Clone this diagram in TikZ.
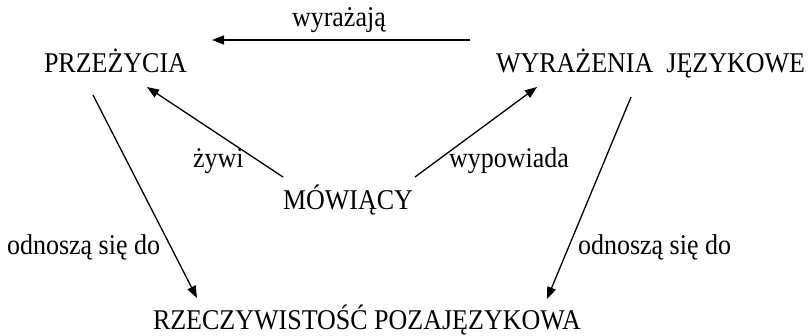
\documentclass[tikz,border=0pt]{standalone}
\usepackage{fontspec}
\usepackage{graphicx}
\setmainfont{Liberation Serif}
\usetikzlibrary{arrows.meta}
\newcommand{\tall}[1]{\scalebox{1}[1.1]{#1}}
\begin{document}
\begin{tikzpicture}[x=1pt,y=-1pt,
  lbl/.style={inner sep=0pt,outer sep=0pt,anchor=base west,font=\fontsize{26}{30}\selectfont},
  arr/.style={line width=1.3pt,-{Triangle[length=12pt,width=9pt]}}]
\useasboundingbox (0,0) rectangle (810,336);
\node[lbl] (wyrazaja) at (292,27) {\tall{wyrażają}};
\node[lbl] (prz) at (44,73) {\tall{PRZEŻYCIA}};
\node[lbl] (wyr) at (496,73) {\tall{WYRAŻENIA\ \ JĘZYKOWE}};
\node[lbl] (zywi) at (193,168) {\tall{żywi}};
\node[lbl] (wypow) at (449,168) {\tall{wypowiada}};
\node[lbl] (mow) at (283,210) {\tall{MÓWIĄCY}};
\node[lbl] (odnL) at (7,255) {\tall{odnoszą się do}};
\node[lbl] (odnR) at (578,255) {\tall{odnoszą się do}};
\node[lbl] (rze) at (153,329) {\tall{RZECZYWISTOŚĆ POZAJĘZYKOWA}};
\draw[arr] ([shift={(-26,-33)}]wyr.base west) -- ([shift={(168,-33)}]prz.base west);
\draw[arr] ([shift={(0,-33)}]mow.base west) -- ([shift={(103,14)}]prz.base west);
\draw[arr] ([shift={(132,-33)}]mow.base west) -- ([shift={(41,14)}]wyr.base west);
\draw[arr] ([shift={(49,22)}]prz.base west) -- ([shift={(44,-31)}]rze.base west);
\draw[arr] ([shift={(135,24)}]wyr.base west) -- ([shift={(394,-30)}]rze.base west);
\end{tikzpicture}
\end{document}
